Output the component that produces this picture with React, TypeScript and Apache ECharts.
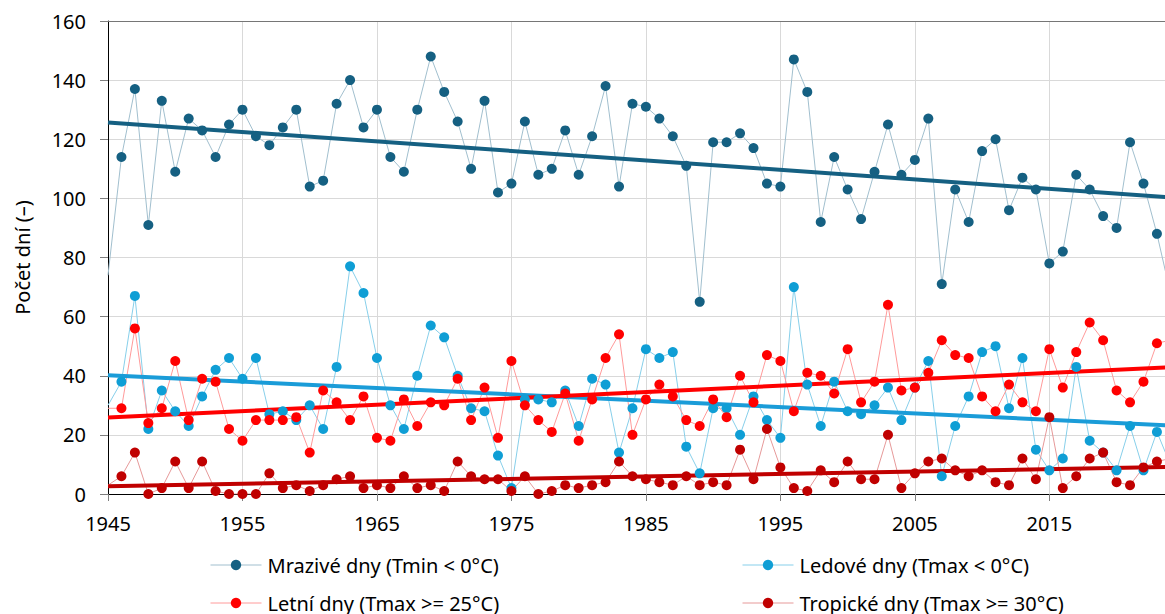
import React, { useEffect, useRef } from "react";
import * as echarts from "echarts";

const years: number[] = [];
for (let y = 1945; y <= 2024; y++) years.push(y);

const mrazive = [
  74, 114, 137, 91, 133, 109, 127, 123, 114, 125,
  130, 121, 118, 124, 130, 104, 106, 132, 140, 124,
  130, 114, 109, 130, 148, 136, 126, 110, 133, 102,
  105, 126, 108, 110, 123, 108, 121, 138, 104, 132,
  131, 127, 121, 111, 65, 119, 119, 122, 117, 105,
  104, 147, 136, 92, 114, 103, 93, 109, 125, 108,
  113, 127, 71, 103, 92, 116, 120, 96, 107, 103,
  78, 82, 108, 103, 94, 90, 119, 105, 88, 68,
];
const ledove = [
  30, 38, 67, 22, 35, 28, 23, 33, 42, 46,
  39, 46, 27, 28, 25, 30, 22, 43, 77, 68,
  46, 30, 22, 40, 57, 53, 40, 29, 28, 13,
  2, 32, 32, 31, 35, 23, 39, 37, 14, 29,
  49, 46, 48, 16, 7, 29, 29, 20, 33, 25,
  19, 70, 37, 23, 38, 28, 27, 30, 36, 25,
  36, 45, 6, 23, 33, 48, 50, 29, 46, 15,
  8, 12, 43, 18, 14, 8, 23, 8, 21, 10,
];
const letni = [
  29, 29, 56, 24, 29, 45, 25, 39, 38, 22,
  18, 25, 25, 25, 26, 14, 35, 31, 25, 33,
  19, 18, 32, 23, 31, 30, 39, 25, 36, 19,
  45, 30, 25, 21, 34, 18, 32, 46, 54, 20,
  32, 37, 33, 25, 23, 32, 26, 40, 31, 47,
  45, 28, 41, 40, 34, 49, 31, 38, 64, 35,
  36, 41, 52, 47, 46, 33, 28, 37, 31, 28,
  49, 36, 48, 58, 52, 35, 31, 38, 51, 52,
];
const tropicke = [
  3, 6, 14, 0, 2, 11, 2, 11, 1, 0,
  0, 0, 7, 2, 3, 1, 3, 5, 6, 2,
  3, 2, 6, 2, 3, 1, 11, 6, 5, 5,
  1, 6, 0, 1, 3, 2, 3, 4, 11, 6,
  5, 4, 3, 6, 3, 4, 3, 15, 5, 22,
  9, 2, 1, 8, 4, 11, 5, 5, 20, 2,
  7, 11, 12, 8, 6, 8, 4, 3, 12, 5,
  26, 2, 6, 12, 14, 4, 3, 9, 11, 12,
];

const seriesNames = [
  "Mrazivé dny (Tmin < 0°C)",
  "Ledové dny (Tmax < 0°C)",
  "Letní dny (Tmax >= 25°C)",
  "Tropické dny (Tmax >= 30°C)",
];
const seriesValues = [mrazive, ledove, letni, tropicke];
const markerColors = ["#156082", "#0F9ED5", "#FF0000", "#C00000"];
const thinColors = ["#a1bfce", "#87cfea", "#ff9a9a", "#e69999"];
const trendColors = ["#156082", "#1a9cd8", "#FF0000", "#C00000"];

const yTicks = { min: 0, max: 160, interval: 20 };
const xTicks = { min: 1945, max: 2023.6, interval: 10 };

function linreg(xs: number[], ys: number[]) {
  const n = xs.length;
  let sx = 0, sy = 0, sxx = 0, sxy = 0;
  for (let i = 0; i < n; i++) {
    sx += xs[i]; sy += ys[i]; sxx += xs[i] * xs[i]; sxy += xs[i] * ys[i];
  }
  const b = (n * sxy - sx * sy) / (n * sxx - sx * sx);
  const a = (sy - b * sx) / n;
  return { a, b };
}

const FONT = "Noto Sans";

export default function App() {
  const ref = useRef<HTMLDivElement>(null);
  useEffect(() => {
    if (!ref.current) return;
    const chart = echarts.init(ref.current, null, { renderer: "svg" });
    const series: any[] = [];
    seriesValues.forEach((vals, i) => {
      const pts = years.map((y, k) => [y, vals[k]]);
      series.push({
        name: seriesNames[i] + " line",
        type: "line",
        data: pts,
        showSymbol: false,
        symbol: "none",
        lineStyle: { width: 1, color: thinColors[i] },
        z: 1,
        silent: true,
      });
    });
    seriesValues.forEach((vals, i) => {
      const { a, b } = linreg(years, vals);
      const x0 = years[0];
      const x1 = years[years.length - 1];
      series.push({
        name: seriesNames[i] + " trend",
        type: "line",
        data: [
          [x0, a + b * x0],
          [x1, a + b * x1],
        ],
        symbol: "none",
        lineStyle: { width: 4, color: trendColors[i] },
        z: 2,
        silent: true,
      });
    });
    seriesValues.forEach((vals, i) => {
      const pts = years.map((y, k) =>
        y < xTicks.min + 0.5 ? { value: [y, vals[k]], symbol: "none" } : [y, vals[k]]
      );
      series.push({
        name: seriesNames[i],
        type: "line",
        data: pts,
        symbol: "circle",
        symbolSize: 10,
        showAllSymbol: true,
        itemStyle: { color: markerColors[i] },
        lineStyle: { width: 1, color: thinColors[i], opacity: 0 },
        z: 3,
      });
    });
    const legendItem = (i: number) => ({
      name: seriesNames[i],
      lineStyle: { color: thinColors[i], width: 1, opacity: 1 },
      itemStyle: { color: markerColors[i] },
    });
    const legendCommon = {
      orient: "vertical",
      top: 555,
      height: 120,
      itemWidth: 51,
      itemHeight: 13,
      itemGap: 18,
      padding: 0,
      textStyle: { fontSize: 20, color: "#000", fontFamily: FONT, padding: [0, 0, 0, 1] },
    };
    chart.setOption({
      animation: false,
      textStyle: { fontFamily: FONT },
      grid: { left: 108, top: 21, right: 0, bottom: 120 },
      xAxis: [
        {
          type: "value",
          min: xTicks.min,
          max: xTicks.max,
          interval: xTicks.interval,
          axisLine: { show: true, lineStyle: { color: "#000", width: 1 } },
          axisTick: { show: true, length: 7, lineStyle: { color: "#7f7f7f" } },
          axisLabel: {
            fontSize: 20,
            color: "#000",
            fontFamily: FONT,
            margin: 19,
            showMaxLabel: false,
            formatter: (v: number) => String(Math.round(v)),
          },
          splitLine: { show: true, lineStyle: { color: "#d9d9d9", width: 1 } },
        },
        {
          type: "value",
          position: "top",
          min: xTicks.min,
          max: xTicks.max,
          axisLine: { show: true, lineStyle: { color: "#767676", width: 1 } },
          axisTick: { show: false },
          axisLabel: { show: false },
          splitLine: { show: false },
        },
      ],
      yAxis: {
        type: "value",
        min: yTicks.min,
        max: yTicks.max,
        interval: yTicks.interval,
        name: "Počet dní (–)",
        nameLocation: "middle",
        nameGap: 76,
        nameTextStyle: { fontSize: 20, color: "#000", fontFamily: FONT },
        axisLine: { show: true, lineStyle: { color: "#000", width: 1 } },
        axisTick: { show: true, length: 8, lineStyle: { color: "#7f7f7f" } },
        axisLabel: { fontSize: 20, color: "#000", fontFamily: FONT, margin: 22 },
        splitLine: { show: true, lineStyle: { color: "#d9d9d9", width: 1 } },
      },
      legend: [
        { ...legendCommon, left: 210, data: [legendItem(0), legendItem(2)] },
        { ...legendCommon, left: 742, data: [legendItem(1), legendItem(3)] },
      ],
      series,
    });
    return () => chart.dispose();
  }, []);
  return (
    <div
      ref={ref}
      style={{ position: "fixed", left: 0, top: 0, width: 1165, height: 614, background: "#fff" }}
    />
  );
}
